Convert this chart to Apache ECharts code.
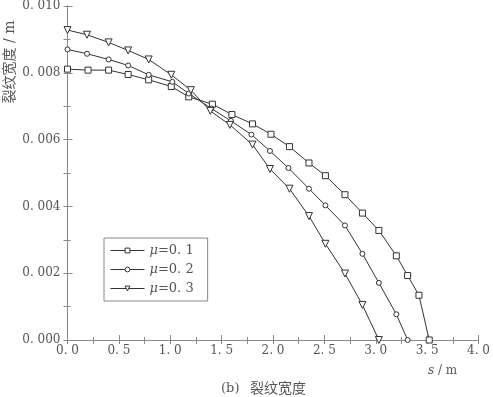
<!DOCTYPE html>
<html>
<head>
<meta charset="utf-8">
<script src="https://cdn.jsdelivr.net/npm/echarts@6/dist/echarts.min.js"></script>
<style>
  html, body { margin: 0; padding: 0; background: #fff; }
  #chart { width: 493px; height: 397px; }
</style>
</head>
<body>
<div id="chart"></div>
<script>
// 数据：s / m 与裂纹宽度 / m
const seriesNames = ['μ=0.1', 'μ=0.2', 'μ=0.3']
const s1 = [0, 0.2, 0.4, 0.59, 0.79, 1.01, 1.18, 1.41, 1.60, 1.80, 1.98, 2.16, 2.35, 2.51, 2.70, 2.87, 3.03, 3.20, 3.31, 3.42, 3.52]
const w1 = [0.00811, 0.00808, 0.00808, 0.00795, 0.00779, 0.00759, 0.00728, 0.00706, 0.00675, 0.00647, 0.00616, 0.00579, 0.00530, 0.00492, 0.00435, 0.00380, 0.00328, 0.00252, 0.00193, 0.00134, 0]
const s2 = [0, 0.19, 0.40, 0.59, 0.79, 1.02, 1.18, 1.40, 1.59, 1.79, 1.97, 2.15, 2.35, 2.51, 2.70, 2.87, 3.03, 3.20, 3.31]
const w2 = [0.00870, 0.00857, 0.00840, 0.00822, 0.00794, 0.00773, 0.00738, 0.00693, 0.00656, 0.00615, 0.00566, 0.00515, 0.00453, 0.00403, 0.00343, 0.00258, 0.00171, 0.00077, 0]
const s3 = [0, 0.19, 0.40, 0.59, 0.79, 1.01, 1.20, 1.39, 1.58, 1.80, 1.97, 2.16, 2.35, 2.51, 2.70, 2.87, 3.03]
const w3 = [0.00928, 0.00914, 0.00891, 0.00867, 0.00840, 0.00794, 0.00748, 0.00686, 0.00644, 0.00585, 0.00512, 0.00453, 0.00371, 0.00288, 0.00199, 0.00105, 0]

const chart = echarts.init(document.getElementById('chart'))

const serif = '"DejaVu Serif", "Liberation Serif", "Noto Sans CJK SC", serif'
const axisColor = '#8a8a8a'
const lineColor = '#333'
const textColor = '#555'

// 把 "0.010" 写成 "0. 010" 的样子
const spaced = (v, d) => v.toFixed(d).replace('.', '. ')

function makeSeries (name, xs, ys, symbol, size, rotate) {
  return {
    name: name,
    type: 'line',
    data: xs.map((x, i) => [x, ys[i]]),
    symbol: symbol,
    symbolSize: size,
    symbolRotate: rotate,
    showAllSymbol: true,
    lineStyle: { color: lineColor, width: 1 },
    itemStyle: { color: '#fff', borderColor: lineColor, borderWidth: 1 },
    silent: true,
    animation: false,
    z: 3
  }
}

const option = {
  backgroundColor: '#fff',
  grid: { left: 67.5, right: 9.5, top: 3.5, bottom: 57, containLabel: false },
  legend: {
    orient: 'vertical',
    left: 104,
    top: 238,
    itemWidth: 34,
    itemHeight: 6,
    itemGap: 6,
    padding: [6, 14, 6, 6],
    borderColor: '#888',
    borderWidth: 1,
    data: seriesNames,
    lineStyle: { width: 1 },
    itemStyle: { borderWidth: 1 },
    formatter: (name) => '{i|μ}{t|' + name.slice(1).replace('.', '. ') + '}',
    textStyle: {
      rich: {
        i: { fontFamily: serif, fontStyle: 'italic', fontSize: 13, color: textColor },
        t: { fontFamily: serif, fontSize: 13, color: textColor }
      }
    }
  },
  xAxis: [
    {
      type: 'value',
      position: 'bottom',
      min: 0,
      max: 4,
      interval: 0.5,
      axisLine: { show: true, lineStyle: { color: axisColor } },
      axisTick: { show: true, inside: true, length: 5, lineStyle: { color: axisColor } },
      minorTick: { show: true, splitNumber: 2, length: 3, lineStyle: { color: axisColor } },
      splitLine: { show: false },
      axisLabel: {
        margin: 5,
        fontFamily: serif,
        fontSize: 12,
        color: textColor,
        formatter: (v) => spaced(v, 1)
      }
    },
    {
      type: 'value',
      position: 'top',
      min: 0,
      max: 4,
      interval: 0.25,
      axisLine: { show: true, lineStyle: { color: axisColor } },
      axisTick: { show: true, inside: true, length: 4, lineStyle: { color: axisColor } },
      splitLine: { show: false },
      axisLabel: { show: false }
    }
  ],
  yAxis: [
    {
      type: 'value',
      position: 'left',
      min: 0,
      max: 0.01,
      interval: 0.002,
      axisLine: { show: true, lineStyle: { color: axisColor } },
      axisTick: { show: true, inside: true, length: 5, lineStyle: { color: axisColor } },
      minorTick: { show: true, splitNumber: 2, length: 3, lineStyle: { color: axisColor } },
      splitLine: { show: false },
      axisLabel: {
        margin: 7,
        fontFamily: serif,
        fontSize: 12,
        color: textColor,
        formatter: (v) => spaced(v, 3)
      }
    },
    {
      type: 'value',
      position: 'right',
      min: 0,
      max: 0.01,
      interval: 0.001,
      axisLine: { show: true, lineStyle: { color: axisColor } },
      axisTick: { show: true, inside: true, length: 4, lineStyle: { color: axisColor } },
      splitLine: { show: false },
      axisLabel: { show: false }
    }
  ],
  graphic: [
    {
      type: 'text',
      x: 10,
      y: 62,
      rotation: Math.PI / 2,
      style: {
        text: '裂纹宽度 / m',
        fontFamily: serif,
        fontSize: 14,
        fill: textColor,
        align: 'center',
        verticalAlign: 'middle'
      }
    },
    {
      type: 'text',
      left: 428,
      top: 365,
      style: {
        text: '{i|s}{t| / m}',
        rich: {
          i: { fontFamily: serif, fontStyle: 'italic', fontSize: 12, fill: textColor },
          t: { fontFamily: serif, fontSize: 12, fill: textColor }
        }
      }
    },
    {
      type: 'text',
      left: 221,
      top: 382,
      style: { text: '(b)', fontFamily: serif, fontSize: 13, fill: textColor }
    },
    {
      type: 'text',
      left: 250,
      top: 382,
      style: { text: '裂纹宽度', fontFamily: serif, fontSize: 14, fill: textColor }
    }
  ],
  series: [
    makeSeries(seriesNames[0], s1, w1, 'rect', 6, 0),
    makeSeries(seriesNames[1], s2, w2, 'circle', 5, 0),
    makeSeries(seriesNames[2], s3, w3, 'triangle', 7, 180)
  ]
}

chart.setOption(option)
</script>
</body>
</html>
